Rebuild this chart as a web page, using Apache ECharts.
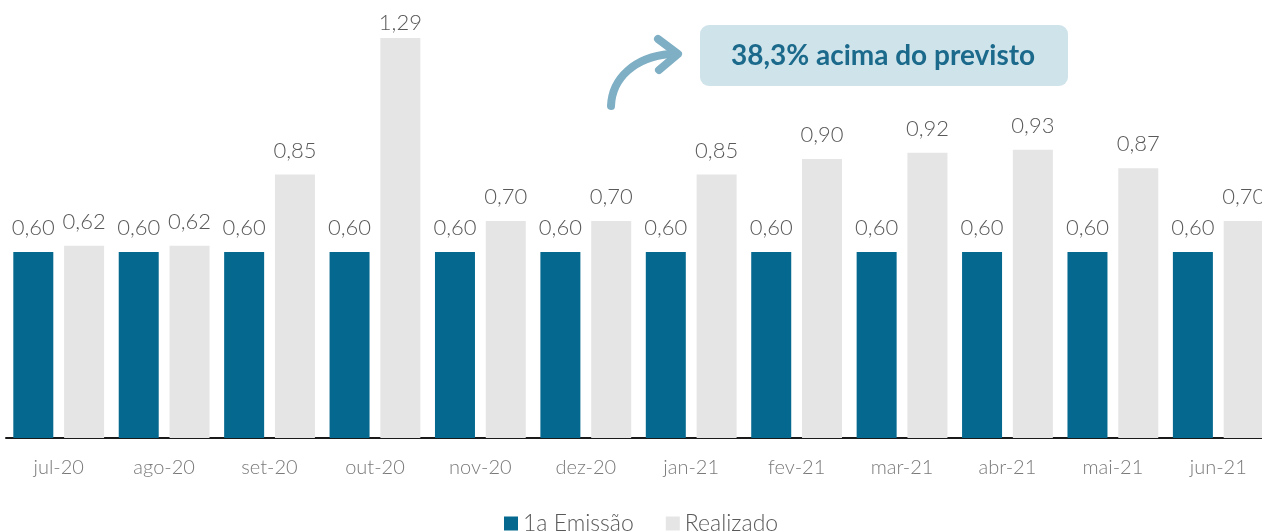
<!DOCTYPE html>
<html>
<head>
<meta charset="utf-8">
<script src="https://cdn.jsdelivr.net/npm/echarts@6/dist/echarts.min.js"></script>
<style>
  html, body { margin: 0; padding: 0; background: #fff; overflow: hidden; }
  #chart { width: 1271px; height: 531px; }
</style>
</head>
<body>
<div id="chart"></div>
<script>
var months = ['jul-20', 'ago-20', 'set-20', 'out-20', 'nov-20', 'dez-20',
              'jan-21', 'fev-21', 'mar-21', 'abr-21', 'mai-21', 'jun-21']
var emissao = [0.60, 0.60, 0.60, 0.60, 0.60, 0.60, 0.60, 0.60, 0.60, 0.60, 0.60, 0.60]
var realizado = [0.62, 0.62, 0.85, 1.29, 0.70, 0.70, 0.85, 0.90, 0.92, 0.93, 0.87, 0.70]
var note = '38,3% acima do previsto'

// chart div is a bit wider than the window: last bar is cut at the edge
var myChart = echarts.init(document.getElementById('chart'))
var font = 'Lato, "Open Sans", sans-serif'

function fmt(p) {
    return p.value.toFixed(2).replace('.', ',')
}

var labelStyle = {
    show: true,
    position: 'top',
    distance: 13,
    formatter: fmt,
    color: '#595959',
    fontSize: 22,
    fontWeight: 300,
    fontFamily: font
}

// tallest bar: label sits closer to the top
var peak = Math.max.apply(null, realizado)
var realizadoData = realizado.map(function (v) {
    if (v == peak) return { value: v, label: { distance: 4 } }
    return v
})

var option = {
    animation: false,
    grid: {
        left: 6,
        right: 0,
        top: 4,
        height: 434
    },
    legend: {
        bottom: -9,
        left: 499,
        itemWidth: 14,
        itemHeight: 14,
        itemGap: 32,
        icon: 'rect',
        textStyle: { color: '#595959', fontSize: 23, fontWeight: 300, fontFamily: font },
        data: ['1a Emissão', 'Realizado']
    },
    xAxis: {
        type: 'category',
        data: months,
        axisLine: { lineStyle: { color: '#1a1a1a', width: 2 } },
        axisTick: { show: false },
        axisLabel: {
            margin: 20,
            color: '#7a7a7a',
            fontSize: 20,
            fontWeight: 300,
            fontFamily: font
        }
    },
    yAxis: {
        type: 'value',
        min: 0,
        max: 1.4,
        show: false,
        splitLine: { show: false }
    },
    series: [
        {
            name: '1a Emissão',
            type: 'bar',
            data: emissao,
            barWidth: 40,
            barGap: '27%',
            itemStyle: { color: '#05698f' },
            label: labelStyle
        },
        {
            name: 'Realizado',
            type: 'bar',
            data: realizadoData,
            barWidth: 40,
            itemStyle: { color: '#e5e5e5' },
            label: labelStyle
        }
    ],
    graphic: [
        {
            type: 'rect',
            shape: { x: 700, y: 25, width: 368, height: 61, r: 9 },
            style: { fill: '#cfe3ea' }
        },
        {
            type: 'text',
            x: 883,
            y: 56,
            style: {
                text: note,
                fill: '#1b6a8c',
                font: 'bold 28px ' + font,
                align: 'center',
                verticalAlign: 'middle'
            }
        },
        {
            type: 'bezierCurve',
            shape: { x1: 611, y1: 106, cpx1: 612, cpy1: 78, cpx2: 635, cpy2: 57, x2: 670, y2: 54 },
            style: { stroke: '#7eafc4', lineWidth: 8, lineCap: 'round', fill: null }
        },
        {
            type: 'polyline',
            shape: { points: [[658, 39], [678, 54], [659, 70]] },
            style: { stroke: '#7eafc4', lineWidth: 8, lineCap: 'round', lineJoin: 'round', fill: null }
        }
    ]
}

myChart.setOption(option)
</script>
</body>
</html>
